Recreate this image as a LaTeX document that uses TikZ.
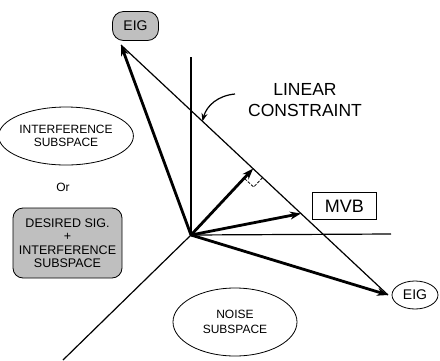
\documentclass[tikz,border=0pt]{standalone}
\usepackage{fontspec}
\setmainfont{Liberation Sans}
\usetikzlibrary{shapes.geometric,arrows.meta,calc}

\tikzset{
  axis/.style={line width=1.2pt},
  vec/.style={line width=2.8pt,-{Stealth[length=11pt,width=8pt]}},
  thin/.style={line width=1.2pt},
  blob/.style={ellipse,draw,line width=0.8pt,align=center,inner sep=1pt},
  shaded/.style={draw,line width=0.8pt,fill=gray!50,align=center},
  lbl/.style={align=center},
}

\begin{document}
\begin{tikzpicture}[x=1pt,y=-1pt]
  \useasboundingbox (0,0) rectangle (440,360);

  % origin and axes
  \coordinate (O) at (191,235);
  \coordinate (vtop) at (191,57);
  \coordinate (hend) at (391,234);
  \coordinate (dend) at (63,360);
  \draw[axis] (O) -- (vtop);
  \draw[axis] (O) -- (hend);
  \draw[axis] (O) -- (dend);

  % eigenvector labels
  \node[shaded,rounded corners=11pt,minimum width=46pt,minimum height=29pt,inner sep=1pt,font=\fontsize{14}{16}\selectfont]
    (eigA) at (135.5,26) {EIG};
  \node[blob,minimum width=46pt,minimum height=28pt,font=\fontsize{14}{16}\selectfont]
    (eigB) at (415,295) {EIG};

  % tips of the eigenvectors
  \coordinate (tA) at (121,45);
  \coordinate (tB) at (388,295);

  % linear constraint line through both tips
  \draw[thin] (tA) -- (tB);

  % foot of perpendicular and MVB point on the constraint
  \coordinate (foot) at ($(tA)!(O)!(tB)$);
  \coordinate (mvbtip) at ($(tA)!0.674!(tB)$);
  \coordinate (cons) at ($(tA)!0.305!(tB)$);

  % vectors
  \draw[vec] (O) -- (tA);
  \draw[vec] (O) -- (tB);
  \draw[vec] (O) -- (foot);
  \draw[vec] (O) -- (mvbtip);

  % right-angle mark
  \coordinate (ra1) at ($(foot)!13pt!(tB)$);
  \coordinate (ra2) at ($(foot)!13pt!(O)$);
  \draw[line width=0.8pt,dashed,dash pattern=on 3pt off 1.5pt]
    (ra1) -- ($(ra1)+(ra2)-(foot)$) -- (ra2);

  % MVB label
  \node[draw,line width=1pt,minimum width=64pt,minimum height=27pt,inner sep=2pt,font=\fontsize{18}{20}\selectfont]
    (mvb) at (344.5,206) {MVB};

  % linear constraint label with callout
  \node[lbl,font=\fontsize{17.5}{21}\selectfont] (lc) at (305,100) {LINEAR\\CONSTRAINT};
  \coordinate (callstart) at (235,94);
  \draw[thin,-{Stealth[length=8pt,width=6pt]}] (callstart) to[out=185,in=75] (cons);

  % subspace labels
  \node[blob,minimum width=118pt,minimum height=58pt,font=\fontsize{12}{13}\selectfont]
    (intf) at (66,136) {INTERFERENCE\\SUBSPACE};
  \node[lbl,font=\fontsize{12}{14}\selectfont] (or) at (63,187) {Or};
  \node[shaded,rounded corners=10pt,minimum width=109pt,minimum height=70pt,inner sep=1pt,
        font=\fontsize{12.5}{13.5}\selectfont]
    (des) at (67.5,243) {DESIRED SIG.\\+\\INTERFERENCE\\SUBSPACE};
  \node[blob,minimum width=124pt,minimum height=68pt,font=\fontsize{12}{15}\selectfont]
    (noise) at (235,322) {NOISE\\SUBSPACE};
\end{tikzpicture}
\end{document}
